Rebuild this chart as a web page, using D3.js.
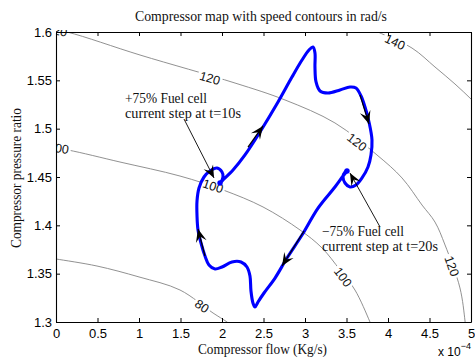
<!DOCTYPE html>
<html><head><meta charset="utf-8">
<script src="https://cdn.jsdelivr.net/npm/d3@7"></script>
<style>body{margin:0;background:#fff}svg{display:block}</style>
</head><body><svg id="c" width="475" height="358"></svg>
<script>
// ---------- data ----------
const xTicks = [0, 0.5, 1, 1.5, 2, 2.5, 3, 3.5, 4, 4.5, 5];          // flow, x 10^-4 kg/s
const yTicks = [1.3, 1.35, 1.4, 1.45, 1.5, 1.55, 1.6];                // pressure ratio

// compressor trajectory (flow in 1e-4 kg/s, pressure ratio)
const flow = [1.976,2.012,2.133,2.277,2.458,2.675,2.843,2.964,3.048,3.096,
  3.120,3.120,3.133,3.181,3.277,3.422,3.542,3.614,3.675,3.723,
  3.771,3.807,3.795,3.759,3.687,3.614,3.542,3.482,3.458,3.482,
  3.506,3.458,3.361,3.157,2.964,2.783,2.639,2.506,2.434,2.398,
  2.373,2.349,2.337,2.301,2.229,2.120,2.000,1.916,1.843,1.795,
  1.747,1.711,1.699,1.699,1.723,1.783,1.855,1.940,2.000,2.012,
  1.988,1.976];
const ratio = [1.4438,1.4469,1.4572,1.4728,1.4966,1.5276,1.5534,1.5710,1.5814,1.5845,
  1.5783,1.5638,1.5483,1.5390,1.5369,1.5400,1.5431,1.5421,1.5338,1.5224,
  1.5069,1.4883,1.4728,1.4603,1.4490,1.4417,1.4397,1.4438,1.4500,1.4552,
  1.4562,1.4510,1.4397,1.4179,1.3900,1.3662,1.3455,1.3300,1.3207,1.3155,
  1.3197,1.3321,1.3476,1.3569,1.3621,1.3621,1.3569,1.3548,1.3590,1.3683,
  1.3817,1.3952,1.4097,1.4252,1.4386,1.4500,1.4562,1.4593,1.4552,1.4500,
  1.4448,1.4438];
const steadyFlow  = [1.976, 3.506];
const steadyRatio = [1.4438, 1.4562];

// speed contours (rad/s)
const contour80  = [[-0.072,1.3662],[0,1.3652],[0.494,1.3579],[1.0,1.3466],[1.494,1.3331],[1.892,1.3093],[2.060,1.3],[2.133,1.2948]];
const contour100 = [[-0.096,1.4810],[0.145,1.4779],[0.771,1.4655],[1.494,1.4510],[2.012,1.4366],[2.494,1.4190],[2.940,1.3952],[3.205,1.3766],[3.422,1.3538],[3.602,1.3331],[3.783,1.3],[3.831,1.2897]];
const contour120 = [[-0.193,1.6052],[0.133,1.6],[1.012,1.5762],[2.157,1.5472],[2.759,1.5297],[3.361,1.5059],[3.867,1.4728],[4.169,1.4490],[4.410,1.4210],[4.566,1.4034],[4.687,1.3797],[4.867,1.3352],[4.928,1.3010],[4.940,1.2897]];
const contour140 = [[3.723,1.6072],[3.880,1.6],[4.289,1.5834],[4.566,1.5638],[4.807,1.5462],[5.012,1.5297],[5.169,1.5162]];
const contourSpeeds = [80, 100, 120, 140];
const labelSpeed = [80, 100, 100, 100, 120, 120, 120, 120, 140];
const labelFlow  = [1.759, 0.030, 1.892, 3.458, 0.012, 1.855, 3.627, 4.771, 4.084];
const labelRatio = [1.3166, 1.4800, 1.4407, 1.3466, 1.6015, 1.5524, 1.4862, 1.3579, 1.5897];

// direction arrows on trajectory: [fromFlow, fromRatio, toFlow, toRatio]
const pathArrows = [[2.313,1.4810,2.494,1.5028],[3.663,1.5348,3.771,1.5048],[2.988,1.3941,2.723,1.3579],[1.795,1.3683,1.711,1.3962]];

// annotations
const noteLines = [["+75% Fuel cell","current step at t=10s"],["\u221275% Fuel cell","current step at t=20s"]];
const noteFlow  = [0.831, 3.205];
const noteRatio = [1.5266, 1.3890];
const noteArrows = [[1.542,1.5100,1.904,1.4490],[3.904,1.3983,3.542,1.4541]];

// ---------- drawing ----------
const L=56, R=471, T=32, B=322;
const x = d3.scaleLinear().domain([0,5]).range([L,R]);
const y = d3.scaleLinear().domain([1.3,1.6]).range([B,T]);
const svg = d3.select('#c');
const defs = svg.append('defs');
defs.append('clipPath').attr('id','plot').append('rect').attr('x',L).attr('y',T).attr('width',R-L).attr('height',B-T);
defs.append('clipPath').attr('id','lab').append('rect').attr('x',L).attr('y',T-2).attr('width',R-L+4).attr('height',B-T+2);

const sans = "'Liberation Sans', Arial, Helvetica, sans-serif";
const serif = "'Liberation Serif', 'Times New Roman', serif";

const contourPts = [contour80, contour100, contour120, contour140];
const cline = d3.line().x(d=>x(d[0])).y(d=>y(d[1])).curve(d3.curveCatmullRom);
const gc = svg.append('g').attr('clip-path','url(#plot)');
contourPts.forEach(p => gc.append('path').attr('d', cline(p)).attr('fill','none').attr('stroke','#858585').attr('stroke-width',0.9));

const gl = svg.append('g').attr('clip-path','url(#lab)');
labelSpeed.forEach((v,i) => {
  const pts = contourPts[contourSpeeds.indexOf(v)];
  const px = x(labelFlow[i]), py = y(labelRatio[i]);
  let best = 1e9, ang = 0;
  for (let k=0;k<pts.length-1;k++){
    const ax=x(pts[k][0]), ay=y(pts[k][1]), bx=x(pts[k+1][0]), by=y(pts[k+1][1]);
    const dx=bx-ax, dy=by-ay, len2=dx*dx+dy*dy;
    let t=((px-ax)*dx+(py-ay)*dy)/len2; t=Math.max(0,Math.min(1,t));
    const qx=ax+t*dx-px, qy=ay+t*dy-py, d=qx*qx+qy*qy;
    if(d<best){best=d; ang=Math.atan2(dy,dx)*180/Math.PI;}
  }
  const g = gl.append('g').attr('transform',`translate(${px},${py}) rotate(${ang})`);
  const r = g.append('rect').attr('fill','#fff');
  const t = g.append('text').text(v).attr('text-anchor','middle').attr('dy','0.36em')
    .attr('font-family',sans).attr('font-size',12.5).attr('fill','#111');
  const w = t.node().getComputedTextLength();
  r.attr('x',-w/2-2).attr('y',-6).attr('width',w+4).attr('height',12);
});

// trajectory
const traj = flow.map((f,i)=>[f, ratio[i]]);
svg.append('path').attr('d', d3.line().x(d=>x(d[0])).y(d=>y(d[1])).curve(d3.curveCatmullRom.alpha(0.5))(traj))
  .attr('fill','none').attr('stroke','#0000ff').attr('stroke-width',3.1).attr('stroke-linejoin','round').attr('stroke-linecap','round');
steadyFlow.forEach((f,i)=>svg.append('circle').attr('cx',x(f)).attr('cy',y(steadyRatio[i])).attr('r',2.7).attr('fill','#0000ff'));

function arrow(a, hl, hw, sw){
  const x1=x(a[0]), y1=y(a[1]), x2=x(a[2]), y2=y(a[3]);
  const ang = Math.atan2(y2-y1, x2-x1)*180/Math.PI;
  svg.append('line').attr('x1',x1).attr('y1',y1).attr('x2',x2).attr('y2',y2).attr('stroke','#000').attr('stroke-width',sw);
  svg.append('path').attr('d',`M0,0 L${-hl},${-hw/2} L${-hl*0.6},0 L${-hl},${hw/2} Z`)
    .attr('transform',`translate(${x2},${y2}) rotate(${ang})`).attr('fill','#000');
}
pathArrows.forEach(a=>arrow(a, 13, 11, 1.2));
noteArrows.forEach(a=>arrow(a, 12.5, 10.5, 0.9));

noteLines.forEach((lines,i)=>{
  lines.forEach((s,j)=>{
    svg.append('text').text(s).attr('x',x(noteFlow[i])).attr('y',y(noteRatio[i])+j*15)
      .attr('font-family',serif).attr('font-size',13.6).attr('fill','#111')
      .attr('textLength', j===0?82:116).attr('lengthAdjust','spacingAndGlyphs');
  });
});

// axes
const fmt = d=>String(d);
function styleAx(g){ g.selectAll('path,line').attr('stroke','#000'); g.selectAll('text').attr('font-family',sans).attr('font-size',13).attr('fill','#000'); }
svg.append('g').attr('transform',`translate(0,${B})`).call(d3.axisBottom(x).tickValues(xTicks).tickFormat(fmt).tickSizeInner(-4).tickSizeOuter(0).tickPadding(7)).call(styleAx);
svg.append('g').attr('transform',`translate(0,${T})`).call(d3.axisTop(x).tickValues(xTicks).tickFormat('').tickSizeInner(-4).tickSizeOuter(0)).call(styleAx);
svg.append('g').attr('transform',`translate(${L},0)`).call(d3.axisLeft(y).tickValues(yTicks).tickFormat(fmt).tickSizeInner(-4).tickSizeOuter(0).tickPadding(4)).call(styleAx);
svg.append('g').attr('transform',`translate(${R},0)`).call(d3.axisRight(y).tickValues(yTicks).tickFormat('').tickSizeInner(-4).tickSizeOuter(0)).call(styleAx);
svg.selectAll('.domain').attr('stroke-width',1.1);

// titles
svg.append('text').text('Compressor map with speed contours in rad/s').attr('x',261).attr('y',21).attr('text-anchor','middle')
  .attr('font-family',serif).attr('font-size',13.6).attr('fill','#111').attr('textLength',252).attr('lengthAdjust','spacingAndGlyphs');
svg.append('text').text('Compressor flow (Kg/s)').attr('x',262.5).attr('y',354).attr('text-anchor','middle')
  .attr('font-family',serif).attr('font-size',13.6).attr('fill','#111').attr('textLength',129).attr('lengthAdjust','spacingAndGlyphs');
svg.append('text').text('Compressor pressure ratio').attr('transform','translate(20.5,178) rotate(-90)').attr('text-anchor','middle')
  .attr('font-family',serif).attr('font-size',13.6).attr('fill','#111').attr('textLength',140).attr('lengthAdjust','spacingAndGlyphs');
const ex = svg.append('text').attr('x',438).attr('y',356).attr('font-family',sans).attr('font-size',12).attr('fill','#000');
ex.append('tspan').text('x 10');
ex.append('tspan').text('\u22124').attr('font-size',9).attr('dy',-7);
</script></body></html>
